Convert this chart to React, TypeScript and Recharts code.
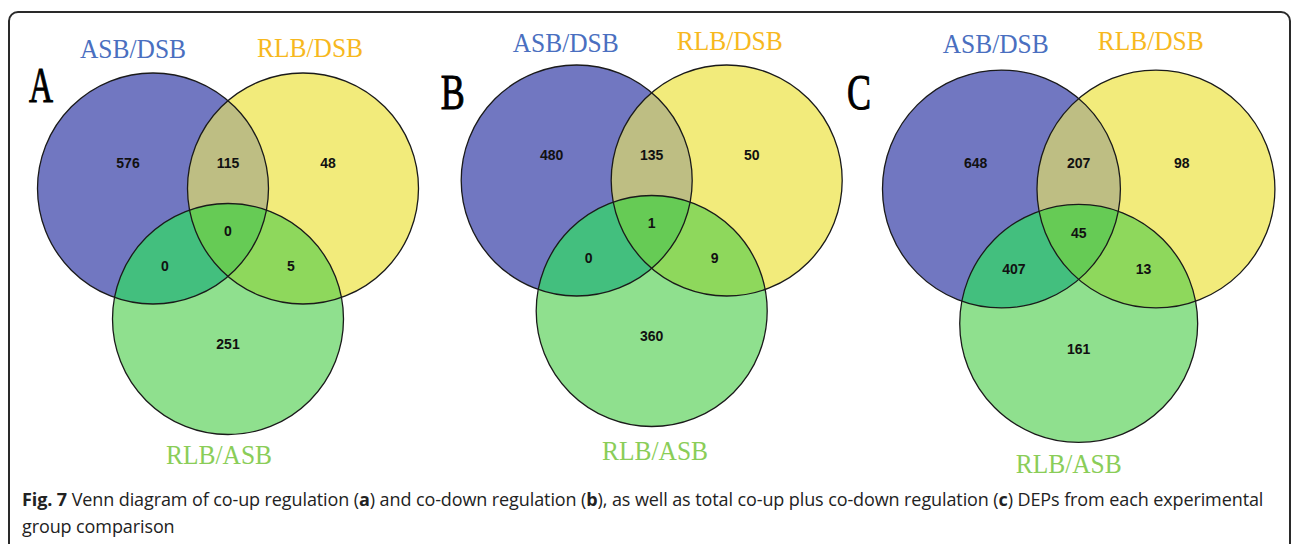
import { ScatterChart, Scatter, XAxis, YAxis } from "recharts";

// panels and sets
const panelLetters = ["A", "B", "C"];
const setNames = ["ASB/DSB", "RLB/DSB", "RLB/ASB"];

// region counts: ASB only, ASB&RLB/DSB, RLB/DSB only, all three, ASB&RLB/ASB, RLB/DSB&RLB/ASB, RLB/ASB only
const countsA = [576, 115, 48, 0, 0, 5, 251];
const countsB = [480, 135, 50, 1, 0, 9, 360];
const countsC = [648, 207, 98, 45, 407, 13, 161];
const panelCounts = [countsA, countsB, countsC];

const captionLine1 = [
  "Venn diagram of co-up regulation (",
  "a",
  ") and co-down regulation (",
  "b",
  "), as well as total co-up plus co-down regulation (",
  "c",
  ") DEPs from each experimental",
];
const captionLine2 = "group comparison";

// colours
const setFills = ["#7177c1", "#f2eb7b", "#8fe08e"];
const pairFills = ["#bebe83", "#43bf7e", "#8ed85c"];
const tripleFill = "#66cb55";
const labelColors = ["#4a6fc0", "#f7b81e", "#8acd58"];

// layout (pixels)
const W = 1293;
const H = 544;
const panelPos = [
  { c: 228, t: 188.5, s: 1 },
  { c: 651.7, t: 180.5, s: 1 },
  { c: 1078.7, t: 189, s: 1.03 },
];
const baseR = 115.5;
const circleOffsets = [[-75, 0], [75, 0], [0, 130.5]];
const regionOffsets = [[-100, -25.5], [0, -25.5], [100, -25.5], [0, 42.5], [-63, 77.5], [63, 77.5], [0, 155.5]];
const setLabelPos = [
  [[-95, -131], [82, -131.5], [-9, 275.5]],
  [[-86, -128.8], [78, -130.5], [3.3, 279.5]],
  [[-83, -136], [72, -139], [-10, 284]],
];
const letterPos = [[29, 102], [440.7, 109], [847, 109]];

const circles = panelPos.flatMap((p, pi) =>
  circleOffsets.map((o, k) => ({
    x: p.c + o[0] * p.s,
    y: p.t + o[1] * p.s,
    r: baseR * p.s,
    fill: setFills[k],
    id: `p${pi}s${k}`,
  }))
);

const pairs = [[0, 1], [0, 2], [1, 2]];
const overlaps = panelPos.flatMap((p, pi) => {
  const cs = circles.slice(pi * 3, pi * 3 + 3);
  const rel = (a: any, b: any) => ({ dx: b.x - a.x, dy: b.y - a.y });
  const items = pairs.map(([i, j], n) => ({
    x: cs[i].x,
    y: cs[i].y,
    r: cs[i].r,
    fill: pairFills[n],
    others: [rel(cs[i], cs[j])],
    id: `o${pi}_${i}${j}`,
  }));
  items.push({
    x: cs[0].x,
    y: cs[0].y,
    r: cs[0].r,
    fill: tripleFill,
    others: [rel(cs[0], cs[1]), rel(cs[0], cs[2])],
    id: `o${pi}_012`,
  });
  return items;
});

const regionLabels = panelPos.flatMap((p, pi) =>
  regionOffsets.map((o, k) => ({
    x: p.c + o[0] * p.s,
    y: p.t + o[1] * p.s,
    value: panelCounts[pi][k],
  }))
);

const textLabels = [
  ...panelPos.flatMap((p, pi) =>
    setNames.map((name, k) => ({
      x: p.c + setLabelPos[pi][k][0],
      y: p.t + setLabelPos[pi][k][1],
      text: name,
      color: labelColors[k],
      size: 28,
      len: 106,
      anchor: "middle",
      stroke: 0,
    }))
  ),
  ...panelLetters.map((l, pi) => ({
    x: letterPos[pi][0],
    y: letterPos[pi][1],
    text: l,
    color: "#000",
    size: 50,
    len: 24,
    anchor: "start",
    stroke: 1,
  })),
];

const CircleShape = (props: any) => {
  const { cx, cy, payload } = props;
  return <circle cx={cx} cy={cy} r={payload.r} fill={payload.fill} />;
};

const OutlineShape = (props: any) => {
  const { cx, cy, payload } = props;
  return <circle cx={cx} cy={cy} r={payload.r} fill="none" stroke="#1a1a1a" strokeWidth={1.3} />;
};

const OverlapShape = (props: any) => {
  const { cx, cy, payload } = props;
  const o = payload.others;
  const id0 = `${payload.id}a`;
  const id1 = `${payload.id}b`;
  return (
    <g>
      <defs>
        <clipPath id={id0}>
          <circle cx={cx + o[0].dx} cy={cy + o[0].dy} r={payload.r} />
        </clipPath>
        {o.length > 1 && (
          <clipPath id={id1}>
            <circle cx={cx + o[1].dx} cy={cy + o[1].dy} r={payload.r} />
          </clipPath>
        )}
      </defs>
      <g clipPath={`url(#${id0})`}>
        <circle
          cx={cx}
          cy={cy}
          r={payload.r}
          fill={payload.fill}
          clipPath={o.length > 1 ? `url(#${id1})` : undefined}
        />
      </g>
    </g>
  );
};

const CountShape = (props: any) => {
  const { cx, cy, payload } = props;
  return (
    <text
      x={cx}
      y={cy + 5}
      textAnchor="middle"
      fontFamily="Liberation Sans, Arial, sans-serif"
      fontWeight="bold"
      fontSize={14}
      fill="#111"
    >
      {payload.value}
    </text>
  );
};

const TextShape = (props: any) => {
  const { cx, cy, payload } = props;
  const x = payload.anchor === "middle" ? cx - payload.len / 2 : cx;
  return (
    <text
      x={x}
      y={cy}
      fontFamily="Liberation Serif, serif"
      fontSize={payload.size}
      fill={payload.color}
      stroke={payload.stroke ? payload.color : "none"}
      strokeWidth={payload.stroke}
      textLength={payload.len}
      lengthAdjust="spacingAndGlyphs"
    >
      {payload.text}
    </text>
  );
};

export default function App() {
  return (
    <div
      style={{
        position: "absolute",
        left: 0,
        top: 0,
        width: W,
        height: H,
        overflow: "hidden",
        background: "#fff",
      }}
    >
      <div
        style={{
          position: "absolute",
          left: 8,
          top: 11,
          width: 1283,
          height: 620,
          border: "2px solid #2a2a2a",
          borderRadius: 10,
          boxSizing: "border-box",
        }}
      />
      <div style={{ position: "absolute", left: 0, top: 0 }}>
        <ScatterChart width={W} height={H} margin={{ top: 0, right: 0, bottom: 0, left: 0 }}>
          <XAxis dataKey="x" type="number" domain={[0, W]} hide />
          <YAxis dataKey="y" type="number" domain={[0, H]} reversed hide />
          <Scatter data={circles} shape={CircleShape} isAnimationActive={false} />
          <Scatter data={overlaps} shape={OverlapShape} isAnimationActive={false} />
          <Scatter data={circles} shape={OutlineShape} isAnimationActive={false} />
          <Scatter data={regionLabels} shape={CountShape} isAnimationActive={false} />
          <Scatter data={textLabels} shape={TextShape} isAnimationActive={false} />
        </ScatterChart>
      </div>
      <div
        style={{
          position: "absolute",
          left: 22,
          top: 486,
          fontFamily: "'Open Sans', sans-serif",
          fontSize: 18,
          lineHeight: "27px",
          color: "#222",
          whiteSpace: "nowrap",
          letterSpacing: "-0.1px",
        }}
      >
        <b>Fig. 7</b> {captionLine1[0]}
        <b>{captionLine1[1]}</b>
        {captionLine1[2]}
        <b>{captionLine1[3]}</b>
        {captionLine1[4]}
        <b>{captionLine1[5]}</b>
        {captionLine1[6]}
        <br />
        {captionLine2}
      </div>
    </div>
  );
}
